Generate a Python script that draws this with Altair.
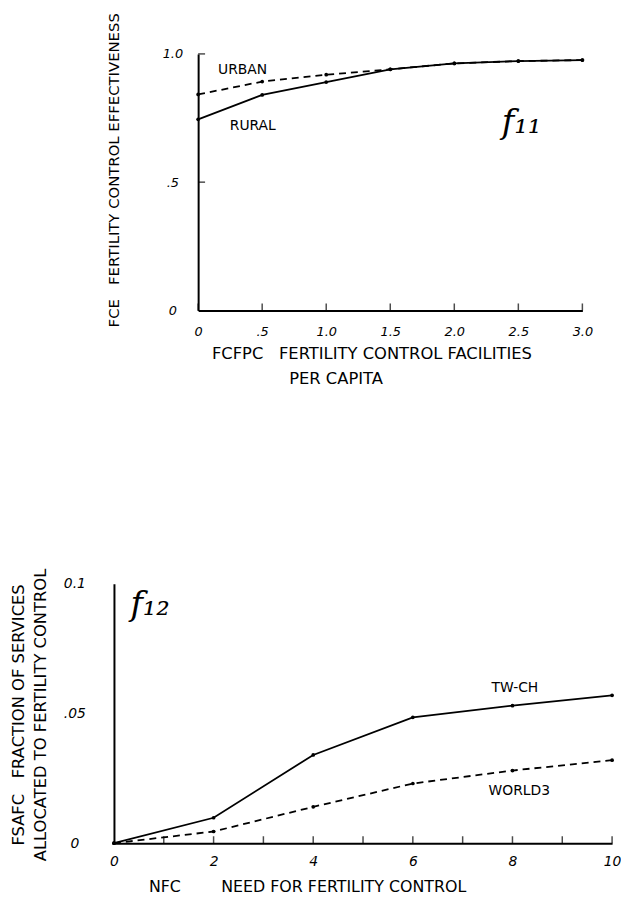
import altair as alt
import pandas as pd

# ---- data ----
fcfpc = [0, 0.5, 1.0, 1.5, 2.0, 2.5, 3.0]
fce_rural = [0.745, 0.84, 0.89, 0.94, 0.963, 0.972, 0.976]
fce_urban = [0.842, 0.892, 0.919, 0.94, 0.963, 0.972, 0.976]

nfc = [0, 2, 4, 6, 8, 10]
fsafc_twch = [0.0, 0.0098, 0.034, 0.0485, 0.053, 0.057]
fsafc_world3 = [0.0, 0.0045, 0.014, 0.023, 0.028, 0.032]

top_xticks = [0, 0.5, 1.0, 1.5, 2.0, 2.5, 3.0]
top_xlabels = ["0", ".5", "1.0", "1.5", "2.0", "2.5", "3.0"]
top_yticks = [0, 0.5, 1.0]
top_ylabels = ["0", ".5", "1.0"]
bot_xticks = [0, 2, 4, 6, 8, 10]
bot_xlabels = ["0", "2", "4", "6", "8", "10"]
bot_minor = [1, 2, 3, 4, 5, 6, 7, 8, 9, 10]
bot_yticks = [0, 0.05, 0.1]
bot_ylabels = ["0", ".05", "0.1"]

top_notes_text = ["URBAN", "RURAL"]
top_notes_x = [0.155, 0.247]
top_notes_y = [0.938, 0.718]
bot_notes_text = ["TW-CH", "WORLD3"]
bot_notes_x = [7.58, 7.52]
bot_notes_y = [0.0599, 0.0202]

FONT = "DejaVu Sans"
NB = "\u00a0"
BLANK = "\u2800"


def lab_expr(vals, labs):
    parts = [f"abs(datum.value - {v}) < 1e-6 ? '{l}'" for v, l in zip(vals, labs)]
    return " : ".join(parts) + " : ''"


common_axis = dict(grid=False, ticks=False, tickSize=0, domainColor="black", domainWidth=2,
                   labelColor="black", labelFont=FONT, labelFontStyle="italic",
                   labelOverlap=False, labelFlush=False,
                   titleColor="black", titleFont=FONT, titleFontWeight="normal")

# ---------------- top panel ----------------
tx_axis = alt.Axis(values=top_xticks, labelExpr=lab_expr(top_xticks, top_xlabels),
                   labelFontSize=13, labelPadding=15,
                   title=["FCFPC" + NB * 3 + "FERTILITY CONTROL FACILITIES", "PER CAPITA" + BLANK * 6],
                   titleFontSize=16.5, titleX=175, titleY=44, titleBaseline="middle",
                   titleLineHeight=25, titleAlign="center", **common_axis)
ty_axis = alt.Axis(values=top_yticks, labelExpr=lab_expr(top_yticks, top_ylabels),
                   labelFontSize=13, labelPadding=26, labelAlign="center", labelBaseline="middle",
                   title=["FCE" + NB * 3 + "FERTILITY CONTROL EFFECTIVENESS"],
                   titleFontSize=15, titleAngle=270, titleX=-85, titleY=117,
                   titleAlign="center", titleBaseline="middle", **common_axis)

TX = lambda: alt.X("x:Q", scale=alt.Scale(domain=[0, 3], nice=False, zero=False), axis=tx_axis)
TY = lambda: alt.Y("y:Q", scale=alt.Scale(domain=[0, 1], nice=False, zero=False), axis=ty_axis)

rural_df = pd.DataFrame({"x": fcfpc, "y": fce_rural})
urban_df = pd.DataFrame({"x": fcfpc, "y": fce_urban})
txt_df = pd.DataFrame({"x": top_xticks, "y": [0] * len(top_xticks)})
tyt_df = pd.DataFrame({"x": [0] * 2, "y": top_yticks[1:]})
tnotes = pd.DataFrame({"x": top_notes_x, "y": top_notes_y, "t": top_notes_text})
tf = pd.DataFrame({"x": [2.37], "y": [0.69], "t": ["f\u2081\u2081"]})

top = alt.layer(
    alt.Chart(urban_df).mark_line(color="black", strokeWidth=1.8, strokeDash=[7, 5]).encode(TX(), TY()),
    alt.Chart(rural_df).mark_line(color="black", strokeWidth=1.8).encode(TX(), TY()),
    alt.Chart(urban_df).mark_circle(color="black", size=14, opacity=1).encode(TX(), TY()),
    alt.Chart(rural_df).mark_circle(color="black", size=14, opacity=1).encode(TX(), TY()),
    alt.Chart(txt_df).mark_tick(orient="vertical", size=7, thickness=1.5, yOffset=-3.5,
                                color="black").encode(TX(), TY()),
    alt.Chart(tyt_df).mark_tick(orient="horizontal", size=7, thickness=1.5, xOffset=3.5,
                                color="black").encode(TX(), TY()),
    alt.Chart(tnotes).mark_text(align="left", baseline="middle", font=FONT, fontSize=14,
                                color="black").encode(TX(), TY(), text="t:N"),
    alt.Chart(tf).mark_text(align="left", baseline="alphabetic", font="DejaVu Serif",
                            fontStyle="italic", fontSize=34, color="black").encode(TX(), TY(), text="t:N"),
).properties(width=388, height=259)

# ---------------- bottom panel ----------------
bx_axis = alt.Axis(values=bot_xticks, labelExpr=lab_expr(bot_xticks, bot_xlabels),
                   labelFontSize=14, labelPadding=12,
                   title="NFC" + NB * 8 + "NEED FOR FERTILITY CONTROL",
                   titleFontSize=16, titleX=195, titleY=44, titleBaseline="middle",
                   titleAlign="center", **common_axis)
by_axis = alt.Axis(values=bot_yticks, labelExpr=lab_expr(bot_yticks, bot_ylabels),
                   labelFontSize=14, labelPadding=40, labelAlign="center", labelBaseline="middle",
                   title=["FSAFC" + NB * 3 + "FRACTION OF SERVICES", "ALLOCATED TO FERTILITY CONTROL"],
                   titleFontSize=16.5, titleAngle=270, titleX=-96, titleY=132, titleLineHeight=22,
                   titleAlign="center", titleBaseline="middle", **common_axis)

BX = lambda: alt.X("x:Q", scale=alt.Scale(domain=[0, 10], nice=False, zero=False), axis=bx_axis)
BY = lambda: alt.Y("y:Q", scale=alt.Scale(domain=[0, 0.1], nice=False, zero=False), axis=by_axis)

twch_df = pd.DataFrame({"x": nfc, "y": fsafc_twch})
w3_df = pd.DataFrame({"x": nfc, "y": fsafc_world3})
bxt_df = pd.DataFrame({"x": bot_minor, "y": [0] * len(bot_minor)})
bnotes = pd.DataFrame({"x": bot_notes_x, "y": bot_notes_y, "t": bot_notes_text})
bf = pd.DataFrame({"x": [0.33], "y": [0.0878], "t": ["f\u2081\u2082"]})

bottom = alt.layer(
    alt.Chart(w3_df).mark_line(color="black", strokeWidth=1.8, strokeDash=[7, 5]).encode(BX(), BY()),
    alt.Chart(twch_df).mark_line(color="black", strokeWidth=1.8).encode(BX(), BY()),
    alt.Chart(w3_df).mark_circle(color="black", size=14, opacity=1).encode(BX(), BY()),
    alt.Chart(twch_df).mark_circle(color="black", size=14, opacity=1).encode(BX(), BY()),
    alt.Chart(bxt_df).mark_tick(orient="vertical", size=7, thickness=1.5, yOffset=-3.5,
                                color="black").encode(BX(), BY()),
    alt.Chart(bnotes).mark_text(align="left", baseline="middle", font=FONT, fontSize=14,
                                color="black").encode(BX(), BY(), text="t:N"),
    alt.Chart(bf).mark_text(align="left", baseline="alphabetic", font="DejaVu Serif",
                            fontStyle="italic", fontSize=34, color="black").encode(BX(), BY(), text="t:N"),
).properties(width=503, height=262)


def spacer(w):
    return alt.Chart(pd.DataFrame({"s": [0]})).mark_point(opacity=0, size=1).encode(
        x=alt.value(0), y=alt.value(0)).properties(width=w, height=5)


chart = alt.vconcat(
    alt.hconcat(spacer(97.5), top, spacing=0),
    alt.hconcat(spacer(1), bottom, spacing=0),
    spacing=182,
).properties(padding=0, background="white").configure_view(stroke=None)

chart.save("out.html", embed_options={"renderer": "svg", "actions": False})
